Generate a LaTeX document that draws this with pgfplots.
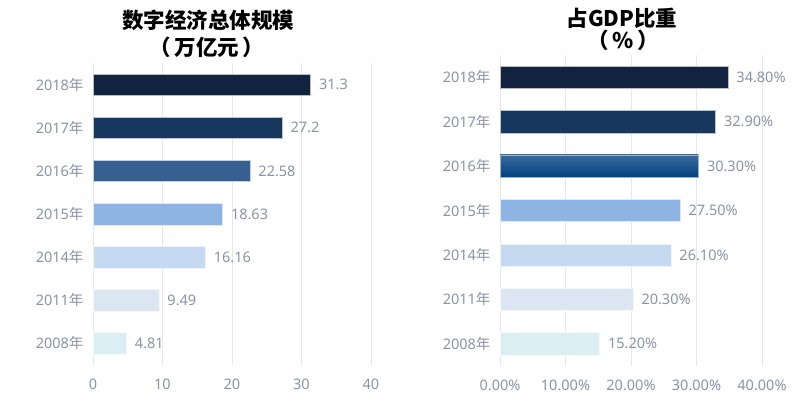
\documentclass[border=0pt]{standalone}
\usepackage{fontspec}
\setmainfont{Noto Sans}
\newfontfamily\cjk{Noto Sans CJK SC}
\usepackage{pgfplots}
\pgfplotsset{compat=1.18}
\definecolor{cA}{HTML}{12233F}
\definecolor{cB}{HTML}{17375E}
\definecolor{cC}{HTML}{36608F}
\definecolor{cD}{HTML}{8EB4E3}
\definecolor{cE}{HTML}{C5D9F1}
\definecolor{cF}{HTML}{DCE6F2}
\definecolor{cG}{HTML}{DBEEF4}
\definecolor{gtop}{HTML}{3A6A9E}
\definecolor{gbot}{HTML}{00427F}
\definecolor{lab}{HTML}{8A93A5}
\definecolor{grd}{HTML}{E6E7EB}
\pgfplotsset{
  mybar/.style={
    scale only axis,
    xbar, bar width=0.5, bar shift=0pt,
    ymin=-0.5, ymax=6.5, xmin=0, xmax=40,
    axis line style={draw=none},
    major tick length=0pt,
    xmajorgrids, major grid style={grd, line width=0.8pt},
    ytick={0,1,2,3,4,5,6},
    yticklabels={2008{\cjk 年},2011{\cjk 年},2014{\cjk 年},2015{\cjk 年},2016{\cjk 年},2017{\cjk 年},2018{\cjk 年}},
    xtick={0,10,20,30,40},
    tick label style={font=\fontsize{14.5}{17}\selectfont, text=lab},
    yticklabel style={xshift=-6pt},
    xticklabel style={yshift=-10pt},
    /pgf/number format/assume math mode=true,
    point meta=x,
    nodes near coords,
    every node near coord/.style={font=\fontsize{14.5}{17}\selectfont, text=lab, anchor=west, xshift=5pt},
    clip=false,
  },
}
\begin{document}
\begin{tikzpicture}[x=1pt,y=1pt]
\path[use as bounding box] (0,0) rectangle (812,404);
\node[font=\cjk\bfseries\fontsize{21.5}{24}\selectfont] at (208,384) {数字经济总体规模};
\node[font=\cjk\bfseries\fontsize{21.5}{24}\selectfont] at (207,357) {（\,万亿元\,）};
\node[font=\cjk\bfseries\fontsize{21.5}{24}\selectfont] at (622,386) {占GDP比重};
\node[font=\cjk\bfseries\fontsize{21.5}{24}\selectfont] at (623,364) {（\,\%\,）};
\begin{axis}[mybar, at={(93pt,39pt)}, anchor=south west, width=278pt, height=302pt]
\addplot[fill=cA, draw=white!70!cA] coordinates {(31.3,6)};
\addplot[fill=cB, draw=white!70!cB] coordinates {(27.2,5)};
\addplot[fill=cC, draw=white!70!cC] coordinates {(22.58,4)};
\addplot[fill=cD, draw=white!70!cD] coordinates {(18.63,3)};
\addplot[fill=cE, draw=white!70!cE] coordinates {(16.16,2)};
\addplot[fill=cF, draw=white!70!cF] coordinates {(9.49,1)};
\addplot[fill=cG, draw=white!70!cG] coordinates {(4.81,0)};
\end{axis}
\begin{axis}[mybar, at={(500pt,38pt)}, anchor=south west, width=262pt, height=311pt,
  xticklabel={\pgfmathprintnumber[fixed,fixed zerofill,precision=2]{\tick}\%},
  nodes near coords={\pgfmathprintnumber[fixed,fixed zerofill,precision=2]{\pgfplotspointmeta}\%}]
\addplot[fill=cA, draw=white!70!cA] coordinates {(34.8,6)};
\addplot[fill=cB, draw=white!70!cB] coordinates {(32.9,5)};
\addplot[top color=gtop, bottom color=gbot, draw=white!60!gbot] coordinates {(30.3,4)};
\addplot[fill=cD, draw=white!70!cD] coordinates {(27.5,3)};
\addplot[fill=cE, draw=white!70!cE] coordinates {(26.1,2)};
\addplot[fill=cF, draw=white!70!cF] coordinates {(20.3,1)};
\addplot[fill=cG, draw=white!70!cG] coordinates {(15.2,0)};
\end{axis}
\end{tikzpicture}
\end{document}
